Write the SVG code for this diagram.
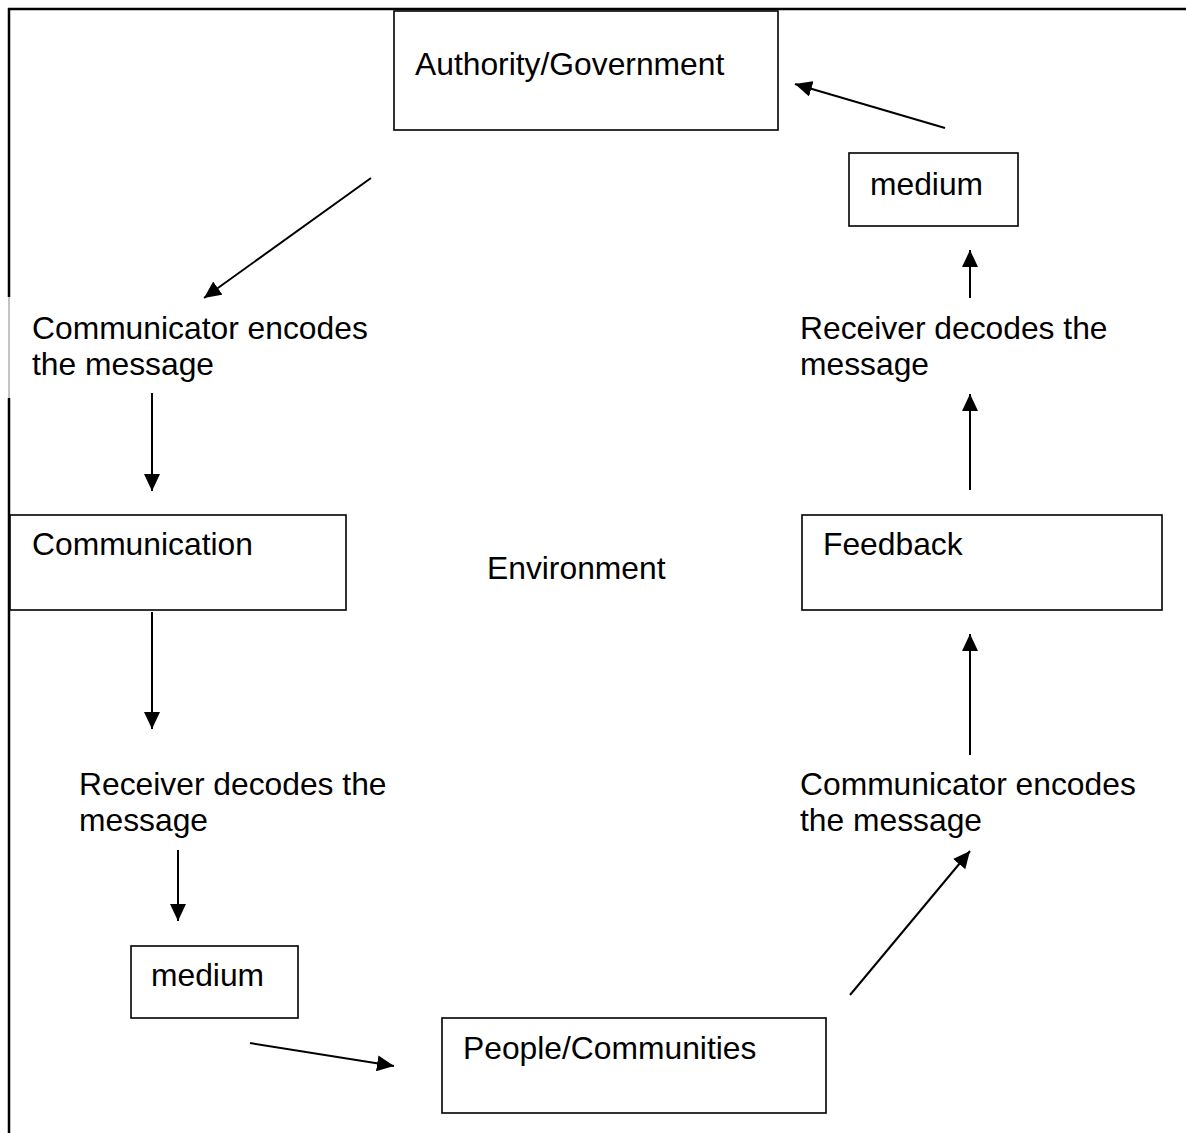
<svg xmlns="http://www.w3.org/2000/svg" width="1186" height="1133" viewBox="0 0 1186 1133">
<defs>
<marker id="ah" markerUnits="userSpaceOnUse" markerWidth="18" markerHeight="16" refX="17" refY="8" orient="auto">
<path d="M0,0 L17,8 L0,16 Z" fill="#000"/>
</marker>
<style>
.box{fill:#fff;stroke:#000;stroke-width:1.6}
.t{font-family:"Liberation Sans",Arial,sans-serif;font-size:31.8px;fill:#000}
.c{stroke:#000;stroke-width:2;fill:none;marker-end:url(#ah)}
</style>
</defs>
<rect width="1186" height="1133" fill="#fff"/>
<g id="frame">
<line x1="8" y1="9" x2="1186" y2="9" stroke="#000" stroke-width="2.5"/>
<line x1="9" y1="8" x2="9" y2="297" stroke="#000" stroke-width="2.5"/>
<line x1="9" y1="297" x2="9" y2="398" stroke="#888" stroke-width="1"/>
<line x1="9" y1="398" x2="9" y2="1133" stroke="#000" stroke-width="2.5"/>
</g>
<g id="authority"><rect class="box" x="394" y="11" width="384" height="119"/><text class="t" x="415" y="75">Authority/Government</text></g>
<g id="medium-top"><rect class="box" x="849" y="153" width="169" height="73"/><text class="t" x="870" y="195">medium</text></g>
<g id="communicator-encodes-left"><text class="t" x="32" y="339">Communicator encodes</text><text class="t" x="32" y="375">the message</text></g>
<g id="receiver-decodes-right"><text class="t" x="800" y="339">Receiver decodes the</text><text class="t" x="800" y="375">message</text></g>
<g id="communication"><rect class="box" x="10" y="515" width="336" height="95"/><text class="t" x="32" y="555">Communication</text></g>
<g id="environment"><text class="t" x="487" y="579">Environment</text></g>
<g id="feedback"><rect class="box" x="802" y="515" width="360" height="95"/><text class="t" x="823" y="555">Feedback</text></g>
<g id="receiver-decodes-left"><text class="t" x="79" y="795">Receiver decodes the</text><text class="t" x="79" y="831">message</text></g>
<g id="communicator-encodes-right"><text class="t" x="800" y="795">Communicator encodes</text><text class="t" x="800" y="831">the message</text></g>
<g id="medium-bottom"><rect class="box" x="131" y="946" width="167" height="72"/><text class="t" x="151" y="986">medium</text></g>
<g id="people"><rect class="box" x="442" y="1018" width="384" height="95"/><text class="t" x="463" y="1059">People/Communities</text></g>
<g id="connectors">
<line class="c" x1="371" y1="178" x2="204" y2="298"/>
<line class="c" x1="945" y1="128" x2="795" y2="84"/>
<line class="c" x1="970" y1="298" x2="970" y2="250"/>
<line class="c" x1="970" y1="490" x2="970" y2="394"/>
<line class="c" x1="152" y1="393" x2="152" y2="491"/>
<line class="c" x1="152" y1="612" x2="152" y2="729"/>
<line class="c" x1="178" y1="850" x2="178" y2="921"/>
<line class="c" x1="250" y1="1043" x2="394" y2="1066"/>
<line class="c" x1="850" y1="995" x2="970" y2="851"/>
<line class="c" x1="970" y1="755" x2="970" y2="634"/>
</g>
</svg>
